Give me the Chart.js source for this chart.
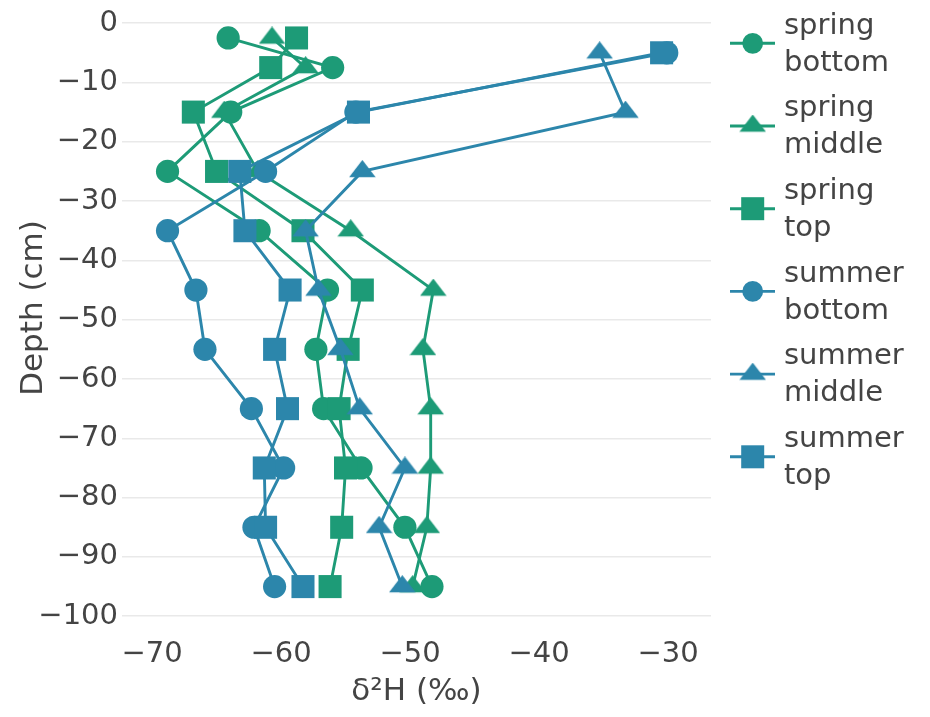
<!DOCTYPE html>
<html>
<head>
<meta charset="utf-8">
<script src="https://cdn.jsdelivr.net/npm/chart.js@4/dist/chart.umd.min.js"></script>
<style>
  html, body { margin: 0; padding: 0; background: #fff; }
  #wrap { position: relative; width: 930px; height: 717px; }
</style>
</head>
<body>
<div id="wrap"><canvas id="c" width="930" height="717"></canvas></div>
<script>
// ---- data ----
const springDepths = [-2.5, -7.5, -15, -25, -35, -45, -55, -65, -75, -85, -95];
const summerDepths = [-5, -15, -25, -35, -45, -55, -65, -75, -85, -95];

const springBottom = [-64.1, -56.0, -63.9, -68.8, -61.7, -56.4, -57.3, -56.7, -53.8, -50.4, -48.3];
const springMiddle = [-60.7, -58.1, -64.4, -61.8, -54.6, -48.2, -49.0, -48.4, -48.4, -48.7, -49.8];
const springTop    = [-58.8, -60.8, -66.8, -65.0, -58.3, -53.7, -54.8, -55.5, -55.0, -55.3, -56.2];
const summerBottom = [-30.1, -54.2, -61.2, -68.8, -66.6, -65.9, -62.3, -59.8, -62.1, -60.5];
const summerMiddle = [-35.3, -33.3, -53.7, -58.1, -57.1, -55.4, -53.9, -50.4, -52.4, -50.6];
const summerTop    = [-30.5, -54.0, -63.2, -62.8, -59.3, -60.5, -59.5, -61.3, -61.2, -58.3];

const seriesNames = ['spring bottom', 'spring middle', 'spring top', 'summer bottom', 'summer middle', 'summer top'];
const xTickValues = [-70, -60, -50, -40, -30];
const yTickValues = [0, -10, -20, -30, -40, -50, -60, -70, -80, -90, -100];
const xTitle = 'δ²H (‰)';
const yTitle = 'Depth (cm)';

// ---- styles ----
const GREEN = '#1d9b77';
const BLUE = '#2c86ab';
const TEXT = '#444';
const FONT = '"DejaVu Sans", Verdana, sans-serif';

function makeTriangle(color) {
  const c = document.createElement('canvas');
  c.width = 27; c.height = 23;
  const g = c.getContext('2d');
  g.fillStyle = color;
  g.beginPath();
  g.moveTo(0.25, 17.25);
  g.lineTo(26.75, 17.25);
  g.lineTo(13.5, 0);
  g.closePath();
  g.fill();
  return c;
}
const triGreen = makeTriangle(GREEN);
const triBlue = makeTriangle(BLUE);

function pts(xs, ys) { return xs.map((x, i) => ({ x: x, y: ys[i] })); }

function ds(label, xs, ys, color, style, order) {
  let pointStyle = 'circle', radius = 11.6;
  if (style === 'square') { pointStyle = 'rect'; radius = 16.3; }
  if (style === 'triangle') { pointStyle = color === GREEN ? triGreen : triBlue; radius = 11.5; }
  return {
    label: label,
    data: pts(xs, ys),
    showLine: true,
    borderColor: color,
    backgroundColor: color,
    borderWidth: 2.9,
    pointStyle: pointStyle,
    pointRadius: radius,
    pointHoverRadius: radius,
    pointBorderWidth: 0,
    pointBackgroundColor: color,
    pointBorderColor: color,
    tension: 0,
    clip: false,
    order: order,
    _shape: style
  };
}

const datasets = [
  ds(seriesNames[0], springBottom, springDepths, GREEN, 'circle', 5),
  ds(seriesNames[1], springMiddle, springDepths, GREEN, 'triangle', 6),
  ds(seriesNames[2], springTop, springDepths, GREEN, 'square', 4),
  ds(seriesNames[3], summerBottom, summerDepths, BLUE, 'circle', 2),
  ds(seriesNames[4], summerMiddle, summerDepths, BLUE, 'triangle', 3),
  ds(seriesNames[5], summerTop, summerDepths, BLUE, 'square', 1)
];

const sideLegend = {
  id: 'sideLegend',
  afterDraw(chart) {
    const ctx = chart.ctx;
    chart.data.datasets.forEach((d, i) => {
      const y = 43.3 + 82.7 * i;
      const mx = 752.7;
      ctx.save();
      ctx.strokeStyle = d.borderColor;
      ctx.lineWidth = 2.9;
      ctx.beginPath();
      ctx.moveTo(730, y);
      ctx.lineTo(775, y);
      ctx.stroke();
      ctx.fillStyle = d.borderColor;
      if (d._shape === 'circle') {
        ctx.beginPath();
        ctx.arc(mx, y, 10.4, 0, Math.PI * 2);
        ctx.fill();
      } else if (d._shape === 'square') {
        ctx.fillRect(mx - 11.5, y - 11.5, 23, 23);
      } else {
        const img = d.pointStyle;
        ctx.drawImage(img, mx - img.width / 2, y - img.height / 2);
      }
      const parts = d.label.split(' ');
      ctx.fillStyle = TEXT;
      ctx.font = '29px ' + FONT;
      ctx.textAlign = 'left';
      ctx.textBaseline = 'alphabetic';
      ctx.fillText(parts[0], 784, y - 9.8);
      ctx.fillText(parts[1], 784, y + 27.2);
      ctx.restore();
    });
  }
};

// draws the y-axis title itself so it can sit where the reference has it
const yTitlePlugin = {
  id: 'yTitlePlugin',
  afterDraw(chart) {
    const ctx = chart.ctx;
    ctx.save();
    ctx.translate(33.5, 308);
    ctx.rotate(-Math.PI / 2);
    ctx.fillStyle = TEXT;
    ctx.font = '31px ' + FONT;
    ctx.textAlign = 'center';
    ctx.textBaseline = 'middle';
    ctx.fillText(yTitle, 0, 0);
    ctx.restore();
  }
};

const minusFmt = v => (v < 0 ? '\u2212' + Math.abs(v) : String(v));

new Chart(document.getElementById('c'), {
  type: 'scatter',
  data: { datasets: datasets },
  plugins: [sideLegend, yTitlePlugin],
  options: {
    responsive: false,
    devicePixelRatio: 1,
    animation: false,
    layout: { autoPadding: false, padding: { top: 0, right: 219, bottom: 0, left: 0 } },
    plugins: {
      legend: { display: false },
      tooltip: { enabled: false }
    },
    scales: {
      x: {
        type: 'linear',
        min: -72.33,
        max: -26.67,
        afterBuildTicks: s => { s.ticks = xTickValues.map(v => ({ value: v })); },
        afterFit: s => { s.height = 80; s.paddingLeft = 0; s.paddingRight = 0; },
        grid: { display: false, drawTicks: false },
        border: { display: false },
        ticks: {
          padding: 0,
          color: TEXT,
          font: { family: FONT, size: 29 },
          maxRotation: 0,
          callback: v => minusFmt(v)
        },
        title: {
          display: true,
          text: xTitle,
          color: TEXT,
          font: { family: FONT, size: 31 },
          padding: { top: 0, bottom: 6 }
        }
      },
      y: {
        type: 'linear',
        min: -103.5,
        max: 3.9,
        afterBuildTicks: s => { s.ticks = yTickValues.map(v => ({ value: v })); },
        afterFit: s => { s.width = 122; s.paddingTop = 0; s.paddingBottom = 0; },
        grid: { color: '#e9e9e9', lineWidth: 1.5, drawTicks: false },
        border: { display: false },
        ticks: {
          padding: 4,
          color: TEXT,
          font: { family: FONT, size: 29 },
          callback: v => minusFmt(v)
        },
        title: { display: false }
      }
    }
  }
});
</script>
</body>
</html>
